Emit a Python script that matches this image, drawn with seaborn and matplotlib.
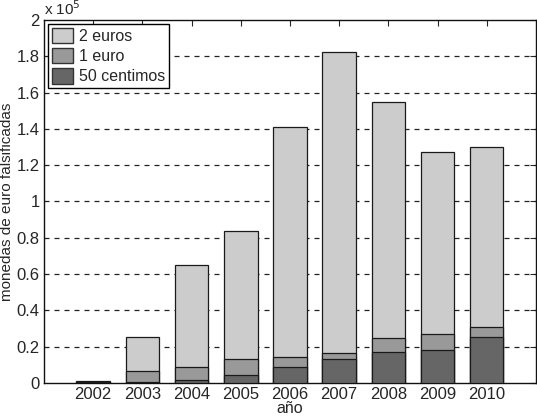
import matplotlib
matplotlib.use("Agg")
import matplotlib.pyplot as plt
from matplotlib.patches import Patch
import numpy as np
import pandas as pd
import seaborn as sns

years = [2002, 2003, 2004, 2005, 2006, 2007, 2008, 2009, 2010]
total = [1300, 25500, 65000, 83700, 141000, 182200, 154800, 127500, 130200]
uno_euro_plus_50 = [600, 6600, 8500, 12900, 14500, 16400, 24800, 26800, 31000]
cincuenta = [300, 700, 1500, 4400, 8600, 13200, 16900, 18200, 25200]

labels = ["2 euros", "1 euro", "50 centimos"]
colors = ["#cccccc", "#999999", "#666666"]

sns.set_style("white")
plt.rcParams["font.family"] = ["Liberation Sans", "DejaVu Sans"]

df = pd.DataFrame({"year": years, "total": total,
                   "mid": uno_euro_plus_50, "low": cincuenta})

fig = plt.figure(figsize=(5.37, 4.18), dpi=100)
ax = fig.add_axes([0.082, 0.084, 0.916, 0.868])

for col, c in zip(["total", "mid", "low"], colors):
    sns.barplot(data=df, x="year", y=col, native_scale=True, width=0.68,
                color=c, edgecolor="#1a1a1a", linewidth=0.9, saturation=1,
                ax=ax, zorder=3)

ax.set_xlim(2001, 2011)
ax.set_ylim(0, 2e5)
ax.set_xticks(years)
ax.set_xticklabels([str(y) for y in years])
yt = np.arange(0, 2.01e5, 2e4)
ax.set_yticks(yt)
ax.set_yticklabels(["0" if v == 0 else ("1" if v == 1e5 else ("2" if v == 2e5 else f"{v/1e5:.1f}")) for v in yt])
for v in yt[1:-1]:
    ax.axhline(v, color="#222222", lw=0.9, ls=(0, (4, 4)), zorder=1)

ax.tick_params(direction="in", length=4, top=True, right=True, labelsize=12,
               colors="#262626", labelcolor="#262626", pad=3)
for s in ax.spines.values():
    s.set_color("#111111")
    s.set_linewidth(1.0)

ax.set_xlabel("año", fontsize=11.5, color="#262626", labelpad=-1)
ax.set_ylabel("monedas de euro falsificadas", fontsize=11, color="#262626", labelpad=2)
ax.text(0.0, 1.005, r"x 10$^5$", transform=ax.transAxes, fontsize=11,
        color="#262626", ha="left", va="bottom")

handles = [Patch(facecolor=c, edgecolor="#333333", label=l) for c, l in zip(colors, labels)]
leg = ax.legend(handles=handles, loc="upper left", fontsize=11.5, frameon=True,
                fancybox=False, framealpha=1, edgecolor="black",
                borderaxespad=0.25, handlelength=1.3, handleheight=1.1,
                labelspacing=0.25, handletextpad=0.4, borderpad=0.25)
leg.get_frame().set_linewidth(1.0)

fig.savefig("out.png", dpi=100)
